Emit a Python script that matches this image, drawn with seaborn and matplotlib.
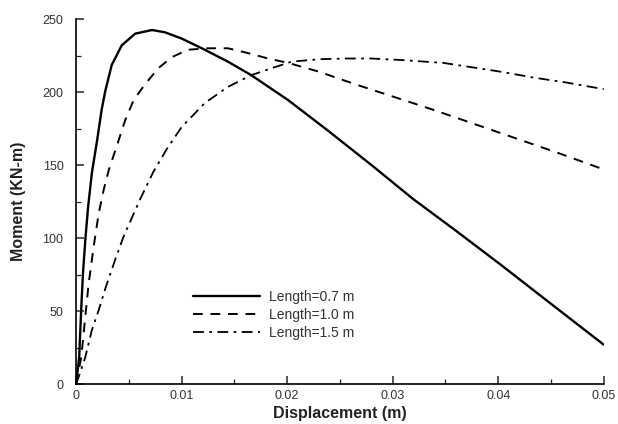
import matplotlib
matplotlib.use("Agg")
import matplotlib.pyplot as plt
from matplotlib.ticker import MultipleLocator, FixedFormatter, FixedLocator
import seaborn as sns
import pandas as pd

sns.set_style("ticks")
plt.rcParams['font.family'] = ['Liberation Sans', 'DejaVu Sans']

# ---- data ----
x_07 = [0, 0.0003, 0.0005, 0.00066, 0.00088, 0.00114, 0.0015, 0.0020, 0.00243, 0.00278,
        0.00338, 0.00433, 0.0056, 0.0072, 0.0084, 0.0100, 0.0122, 0.0144, 0.0166, 0.0201,
        0.0238, 0.0280, 0.0319, 0.0360, 0.0402, 0.0450, 0.0500]
m_07 = [0, 18.5, 52.7, 76, 98.6, 121, 144.5, 167, 188, 201,
        218.5, 232, 240, 242.5, 241, 236.7, 229, 220.8, 211.6, 194.5,
        174, 150, 127, 105, 82, 55, 27]

x_10 = [0, 0.0005, 0.00082, 0.0012, 0.00167, 0.00215, 0.00262, 0.0031, 0.00372, 0.00467,
        0.00546, 0.0065, 0.0078, 0.0091, 0.0106, 0.0125, 0.0144, 0.0163, 0.0182, 0.0201,
        0.0230, 0.0266, 0.0300, 0.0338, 0.0370, 0.0402, 0.0430, 0.0458, 0.0500]
m_10 = [0, 18.5, 42, 69, 94, 117, 133, 146.6, 160, 181,
        194.5, 205, 216.4, 224, 229, 230, 230, 226.7, 223, 220,
        214, 205, 197, 188, 180, 172, 165, 158, 147]

x_15 = [0, 0.0004, 0.00088, 0.0015, 0.00215, 0.0028, 0.0037, 0.0045, 0.0053, 0.0061,
        0.0073, 0.0086, 0.0100, 0.0122, 0.0144, 0.0166, 0.0188, 0.0204, 0.0230, 0.0257,
        0.0280, 0.0307, 0.0348, 0.0375, 0.0402, 0.0433, 0.0465, 0.0500]
m_15 = [0, 8, 18.5, 37, 50.7, 66, 85, 101, 114, 127,
        145, 161, 176, 192.5, 203.6, 211.6, 217, 220.8, 222.5, 223,
        223, 222, 220, 217, 214, 210, 206.5, 202]

labels = ["Length=0.7 m", "Length=1.0 m", "Length=1.5 m"]
x_ticks = [0, 0.01, 0.02, 0.03, 0.04, 0.05]
x_tick_labels = ["0", "0.01", "0.02", "0.03", "0.04", "0.05"]
y_ticks = [0, 50, 100, 150, 200, 250]

fig = plt.figure(figsize=(6.18, 4.24), dpi=100)
ax = fig.add_axes([0.123, 0.094, 0.854, 0.861])

styles = ["-", (0, (5, 4)), (0, (6, 3, 1.5, 3))]
widths = [1.7, 1.4, 1.3]
for xs, ms, lab, ls, lw in zip([x_07, x_10, x_15], [m_07, m_10, m_15], labels, styles, widths):
    df = pd.DataFrame({"x": xs, "m": ms})
    sns.lineplot(data=df, x="x", y="m", ax=ax, color="black", linestyle=ls,
                 linewidth=lw, label=lab, sort=False, estimator=None)

ax.set_xlim(0, 0.05)
ax.set_ylim(0, 250)
ax.xaxis.set_major_locator(FixedLocator(x_ticks))
ax.xaxis.set_major_formatter(FixedFormatter(x_tick_labels))
ax.xaxis.set_minor_locator(MultipleLocator(0.005))
ax.yaxis.set_major_locator(FixedLocator(y_ticks))
ax.yaxis.set_minor_locator(MultipleLocator(25))
ax.tick_params(which="major", direction="in", length=6, width=1.1, labelsize=9,
               labelcolor="#333333")
ax.tick_params(axis="y", which="major", pad=9)
ax.tick_params(axis="x", which="major", pad=4)
ax.tick_params(which="minor", direction="in", length=3.5, width=0.9)
for s in ["top", "right"]:
    ax.spines[s].set_visible(False)
for s in ["left", "bottom"]:
    ax.spines[s].set_linewidth(1.2)
    ax.spines[s].set_color("black")

ax.set_xlabel("Displacement (m)", fontsize=11.5, fontweight="bold", color="#222222", labelpad=3)
ax.set_ylabel("Moment (KN-m)", fontsize=11.5, fontweight="bold", color="#222222", labelpad=12)

leg = ax.legend(loc="center left", bbox_to_anchor=(0.198, 0.19), frameon=False,
                fontsize=10, handlelength=4.8, handletextpad=0.7, labelspacing=0.3)
for t in leg.get_texts():
    t.set_color("#333333")

fig.savefig("out.png", dpi=100)
